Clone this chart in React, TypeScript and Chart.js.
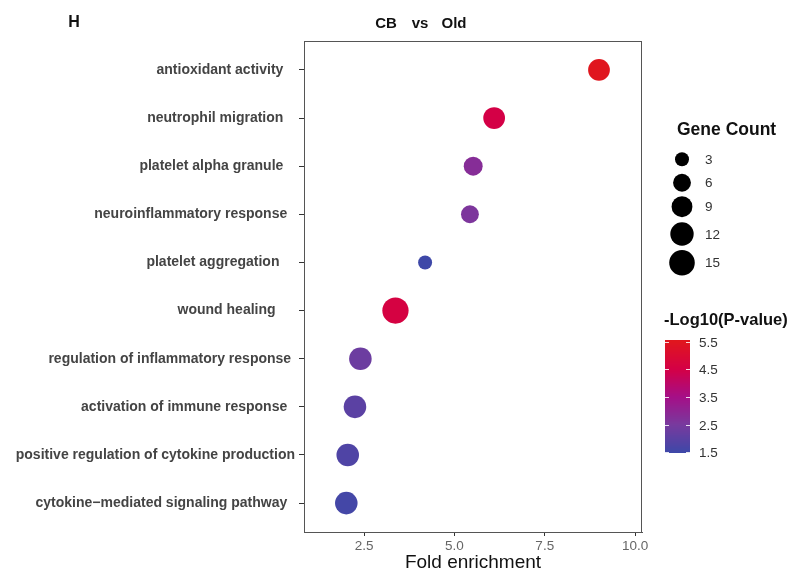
import React, { useEffect, useRef } from "react";
import { Chart, registerables } from "chart.js";
Chart.register(...registerables);

const terms = [
  "antioxidant activity   ",
  "neutrophil migration   ",
  "platelet alpha granule   ",
  "neuroinflammatory response  ",
  "platelet aggregation    ",
  "wound healing     ",
  "regulation of inflammatory response ",
  "activation of immune response  ",
  "positive regulation of cytokine production",
  "cytokine\u2212mediated signaling pathway  ",
];
const foldEnrichment = [9.0, 6.1, 5.52, 5.43, 4.19, 3.37, 2.4, 2.25, 2.05, 2.01];
const geneCount = [10, 10, 7, 6, 3, 16, 11, 11, 11, 11];
const negLog10P = [5.5, 4.5, 2.8, 2.6, 1.5, 4.6, 2.3, 2.0, 1.8, 1.6];
const xTicks = [2.5, 5.0, 7.5, 10.0];
const sizeBreaks = [3, 6, 9, 12, 15];
const colorBreaks = [5.5, 4.5, 3.5, 2.5, 1.5];

const FONT = "'Liberation Sans', Arial, sans-serif";

const colorStops: [number, number[]][] = [
  [1.5, [62, 72, 168]],
  [2.5, [120, 58, 158]],
  [3.5, [165, 15, 135]],
  [4.5, [212, 0, 70]],
  [5.5, [224, 22, 30]],
];

function colorFor(v: number): string {
  if (v <= colorStops[0][0]) return `rgb(${colorStops[0][1].join(",")})`;
  for (let i = 1; i < colorStops.length; i++) {
    const [v1, c1] = colorStops[i];
    const [v0, c0] = colorStops[i - 1];
    if (v <= v1) {
      const t = (v - v0) / (v1 - v0);
      const c = c0.map((a, k) => Math.round(a + (c1[k] - a) * t));
      return `rgb(${c.join(",")})`;
    }
  }
  return `rgb(${colorStops[colorStops.length - 1][1].join(",")})`;
}

function radiusFor(count: number): number {
  return 2.3 + 2.71 * Math.sqrt(count);
}

const decorPlugin = {
  id: "decor",
  afterDraw(chart: any) {
    const ctx = chart.ctx as CanvasRenderingContext2D;
    const a = chart.chartArea;
    ctx.save();
    // panel border
    ctx.strokeStyle = "#555";
    ctx.lineWidth = 1;
    ctx.strokeRect(a.left + 0.5, a.top + 0.5, a.right - a.left - 1, a.bottom - a.top);

    // panel tag and title
    ctx.fillStyle = "#111";
    ctx.textBaseline = "middle";
    ctx.textAlign = "center";
    ctx.font = `bold 16px ${FONT}`;
    ctx.fillText("H", 74, 23);
    ctx.font = `bold 15px ${FONT}`;
    ctx.fillText("CB", 386, 24);
    ctx.fillText("vs", 420, 24);
    ctx.fillText("Old", 454, 24);

    // size legend
    ctx.textAlign = "left";
    ctx.fillStyle = "#111";
    ctx.font = `bold 17.5px ${FONT}`;
    ctx.fillText("Gene Count", 677, 130);
    const sizeY = [159.3, 182.7, 206.7, 234, 262.7];
    ctx.font = `13.5px ${FONT}`;
    sizeBreaks.forEach((s, i) => {
      ctx.fillStyle = "#000";
      ctx.beginPath();
      ctx.arc(682, sizeY[i], radiusFor(s), 0, Math.PI * 2);
      ctx.fill();
      ctx.fillStyle = "#333";
      ctx.fillText(String(s), 705, sizeY[i] + 1);
    });

    // color legend
    ctx.fillStyle = "#111";
    ctx.font = `bold 16.5px ${FONT}`;
    ctx.fillText("-Log10(P-value)", 664, 320);
    const barL = 665, barR = 690, barT = 340, barB = 453;
    const vTop = 5.56, vBot = 1.48;
    for (let y = barT; y < barB; y++) {
      const v = vTop - ((y + 0.5 - barT) / (barB - barT)) * (vTop - vBot);
      ctx.fillStyle = colorFor(v);
      ctx.fillRect(barL, y, barR - barL, 1);
    }
    const yOf = (v: number) => barT + ((vTop - v) / (vTop - vBot)) * (barB - barT);
    ctx.strokeStyle = "rgba(255,255,255,0.85)";
    ctx.lineWidth = 1;
    ctx.font = `13.5px ${FONT}`;
    colorBreaks.forEach((v) => {
      const y = Math.round(yOf(v)) + 0.5;
      ctx.beginPath();
      ctx.moveTo(barL, y);
      ctx.lineTo(barL + 4, y);
      ctx.moveTo(barR - 4, y);
      ctx.lineTo(barR, y);
      ctx.stroke();
      ctx.fillStyle = "#333";
      ctx.fillText(v.toFixed(1), 699, y + 1);
    });
    ctx.restore();
  },
};

export default function App() {
  const ref = useRef<HTMLCanvasElement | null>(null);
  useEffect(() => {
    if (!ref.current) return;
    const points = foldEnrichment.map((x, i) => ({ x, y: i }));
    const chart = new Chart(ref.current, {
      type: "scatter",
      data: {
        datasets: [
          {
            data: points,
            pointRadius: (c: any) => radiusFor(geneCount[c.dataIndex]),
            pointHoverRadius: (c: any) => radiusFor(geneCount[c.dataIndex]),
            pointBackgroundColor: (c: any) => colorFor(negLog10P[c.dataIndex]),
            pointBorderWidth: 0,
            pointBorderColor: "rgba(0,0,0,0)",
          },
        ],
      },
      options: {
        animation: false,
        responsive: false,
        maintainAspectRatio: false,
        layout: { padding: { top: 41, right: 156, left: 0, bottom: 0 } },
        plugins: { legend: { display: false }, tooltip: { enabled: false } },
        scales: {
          x: {
            type: "linear",
            min: 0.84,
            max: 10.19,
            afterBuildTicks: (s: any) => {
              s.ticks = xTicks.map((v) => ({ value: v }));
            },
            afterFit: (s: any) => {
              s.height = 42;
            },
            ticks: {
              callback: (v: any) => Number(v).toFixed(1),
              color: "#666",
              font: { family: FONT, size: 13.5 },
              padding: 2,
            },
            grid: { display: true, drawOnChartArea: false, drawTicks: true, tickLength: 4, color: "#333" },
            border: { display: true, color: "#555" },
            title: {
              display: true,
              text: "Fold enrichment",
              color: "#111",
              font: { family: FONT, size: 19 },
              padding: { top: 0, bottom: 0 },
            },
          },
          y: {
            type: "linear",
            min: -0.6,
            max: 9.6,
            reverse: true,
            afterBuildTicks: (s: any) => {
              s.ticks = terms.map((_, i) => ({ value: i }));
            },
            afterFit: (s: any) => {
              s.width = 304;
            },
            ticks: {
              callback: (v: any) => terms[Number(v)],
              color: "#444",
              font: { family: FONT, size: 14, weight: "bold" },
              padding: 4,
            },
            grid: { display: true, drawOnChartArea: false, drawTicks: true, tickLength: 5, color: "#333" },
            border: { display: true, color: "#555" },
          },
        },
      },
      plugins: [decorPlugin],
    } as any);
    return () => chart.destroy();
  }, []);
  return (
    <div style={{ position: "fixed", left: 0, top: 0, width: 798, height: 574, background: "#fff" }}>
      <canvas ref={ref} width={798} height={574} style={{ width: 798, height: 574, display: "block" }} />
    </div>
  );
}
